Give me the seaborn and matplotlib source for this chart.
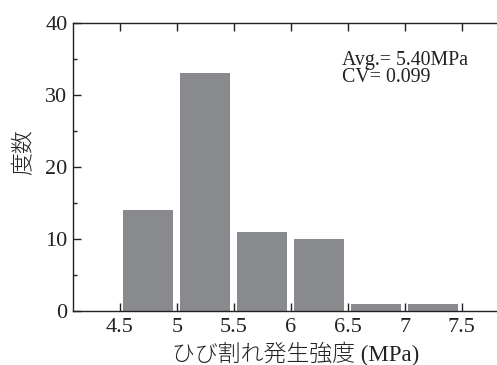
import matplotlib
matplotlib.use("Agg")
import matplotlib.pyplot as plt
import seaborn as sns
from matplotlib.ticker import MultipleLocator

# ひび割れ発生強度の度数分布
bin_edges = [4.5, 5.0, 5.5, 6.0, 6.5, 7.0, 7.5]
bin_centers = [4.75, 5.25, 5.75, 6.25, 6.75, 7.25]
counts = [14, 33, 11, 10, 1, 1]
x_ticks = [4.5, 5, 5.5, 6, 6.5, 7, 7.5]
x_tick_labels = ["4.5", "5", "5.5", "6", "6.5", "7", "7.5"]
note_lines = ["Avg.= 5.40MPa", "CV= 0.099"]

sns.set_style("ticks")
plt.rcParams["font.family"] = ["Liberation Serif", "Noto Sans CJK JP"]

fig = plt.figure(figsize=(4.97, 3.65), dpi=100)
ax = fig.add_axes([0.147, 0.148, 0.853, 0.789])

sns.histplot(x=bin_centers, weights=counts, bins=bin_edges, shrink=0.88,
             color="#898a8e", edgecolor="none", alpha=1.0, ax=ax)

ax.set_xlim(4.09, 7.81)
ax.set_ylim(0, 40)
ax.set_xticks(x_ticks)
ax.set_xticklabels(x_tick_labels)
ax.yaxis.set_major_locator(MultipleLocator(10))
ax.yaxis.set_minor_locator(MultipleLocator(5))

ax.spines["right"].set_visible(False)
for s in ["left", "bottom", "top"]:
    ax.spines[s].set_linewidth(1.0)
    ax.spines[s].set_color("#222222")

ax.tick_params(axis="x", which="major", direction="in", top=True, bottom=True,
               length=6, width=1.0, labelsize=16, pad=5, colors="#222222")
ax.tick_params(axis="y", which="major", direction="in", length=6, width=1.0,
               labelsize=16, pad=4, colors="#222222")
ax.tick_params(axis="y", which="minor", direction="in", length=3, width=1.0,
               colors="#222222")

ax.set_xlabel("ひび割れ発生強度 (MPa)", fontsize=16.5, fontweight="light",
              color="#222222")
ax.set_ylabel("度数", fontsize=16.5, fontweight="light", color="#222222")
ax.xaxis.set_label_coords(0.526, -0.105)
ax.yaxis.set_label_coords(-0.09, 0.55)

ax.text(6.45, 36.1, "\n".join(note_lines), fontsize=14.3, va="top", ha="left",
        linespacing=0.82, color="#222222")

fig.savefig("out.png", dpi=100)
